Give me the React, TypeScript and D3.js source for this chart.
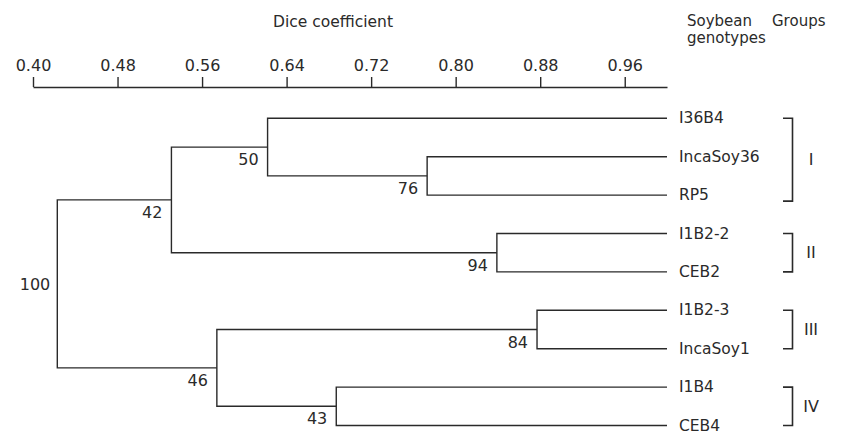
import React, { useEffect, useRef } from "react";
import * as d3 from "d3";

const leaves = ["I36B4", "IncaSoy36", "RP5", "I1B2-2", "CEB2", "I1B2-3", "IncaSoy1", "I1B4", "CEB4"];

// internal nodes: id, Dice similarity at join, bootstrap support, children
const nodeIds = ["n76", "n50", "n94", "n42", "n84", "n43", "n46", "root"];
const nodeSim = [0.773, 0.622, 0.839, 0.531, 0.877, 0.687, 0.574, 0.423];
const nodeBoot = [76, 50, 94, 42, 84, 43, 46, 100];
const nodeChildren = [
  ["IncaSoy36", "RP5"],
  ["I36B4", "n76"],
  ["I1B2-2", "CEB2"],
  ["n50", "n94"],
  ["I1B2-3", "IncaSoy1"],
  ["I1B4", "CEB4"],
  ["n84", "n43"],
  ["n42", "n46"],
];

const tickValues = [0.4, 0.48, 0.56, 0.64, 0.72, 0.8, 0.88, 0.96];

const groupNames = ["I", "II", "III", "IV"];
const groupFirst = ["I36B4", "I1B2-2", "I1B2-3", "I1B4"];
const groupLast = ["RP5", "CEB2", "IncaSoy1", "CEB4"];

const W = 856;
const H = 434;
const FONT = "'DejaVu Sans', sans-serif";
const INK = "#2a2a2a";

export default function App() {
  const ref = useRef<SVGSVGElement | null>(null);

  useEffect(() => {
    const svg = d3.select(ref.current);
    svg.selectAll("*").remove();

    const x = d3.scaleLinear().domain([0.4, 1.0]).range([33, 667]);
    const y = d3.scalePoint<string>().domain(leaves).range([118.3, 425.5]);

    // axis
    const axisG = svg.append("g").attr("transform", "translate(0,87)");
    axisG.call(
      d3
        .axisTop(x)
        .tickValues(tickValues)
        .tickFormat(d3.format(".2f"))
        .tickSize(10)
        .tickSizeOuter(0)
        .tickPadding(6)
    );
    axisG.selectAll("path, line").attr("stroke", INK).attr("stroke-width", 1.4);
    axisG.selectAll("text").attr("font-family", FONT).attr("font-size", 16).attr("fill", INK);
    axisG.attr("font-family", FONT);

    // titles
    const t = svg.append("g").attr("font-family", FONT).attr("font-size", 15).attr("fill", INK);
    t.append("text").attr("x", 333).attr("y", 27).attr("text-anchor", "middle").attr("font-size", 15.5).text("Dice coefficient");
    t.append("text").attr("x", 687).attr("y", 26).text("Soybean");
    t.append("text").attr("x", 687).attr("y", 43).text("genotypes");
    t.append("text").attr("x", 772).attr("y", 26).text("Groups");

    // compute positions
    const pos: Record<string, { x: number; y: number }> = {};
    leaves.forEach((l) => (pos[l] = { x: x(1.0), y: y(l)! }));
    nodeIds.forEach((id, i) => {
      const [a, b] = nodeChildren[i];
      pos[id] = { x: x(nodeSim[i]), y: (pos[a].y + pos[b].y) / 2 };
    });

    const lines = svg
      .append("g")
      .attr("fill", "none")
      .attr("stroke", INK)
      .attr("stroke-width", 1.4);

    nodeIds.forEach((id, i) => {
      const p = pos[id];
      const [a, b] = nodeChildren[i];
      const pa = pos[a];
      const pb = pos[b];
      const path = d3.path();
      path.moveTo(pa.x, pa.y);
      path.lineTo(p.x, pa.y);
      path.lineTo(p.x, pb.y);
      path.lineTo(pb.x, pb.y);
      lines.append("path").attr("d", path.toString());
    });

    // bootstrap labels
    const bl = svg.append("g").attr("font-family", FONT).attr("font-size", 16).attr("fill", INK);
    nodeIds.forEach((id, i) => {
      const p = pos[id];
      if (id === "root") {
        bl.append("text")
          .attr("x", p.x - 7)
          .attr("y", p.y)
          .attr("dy", "0.36em")
          .attr("text-anchor", "end")
          .text(nodeBoot[i]);
      } else {
        bl.append("text")
          .attr("x", p.x - 9)
          .attr("y", p.y + 18)
          .attr("text-anchor", "end")
          .text(nodeBoot[i]);
      }
    });

    // leaf labels
    const ll = svg.append("g").attr("font-family", FONT).attr("font-size", 15.5).attr("fill", INK);
    leaves.forEach((l) => {
      ll.append("text")
        .attr("x", x(1.0) + 12)
        .attr("y", y(l)!)
        .attr("dy", "0.33em")
        .text(l);
    });

    // group brackets
    const gb = svg.append("g");
    groupNames.forEach((g, i) => {
      const y0 = y(groupFirst[i])!;
      const y1 = y(groupLast[i])! + (i === 0 ? 6 : 0);
      const path = d3.path();
      path.moveTo(783, y0);
      path.lineTo(792.5, y0);
      path.lineTo(792.5, y1);
      path.lineTo(783, y1);
      gb.append("path")
        .attr("d", path.toString())
        .attr("fill", "none")
        .attr("stroke", INK)
        .attr("stroke-width", 1.6);
      gb.append("text")
        .attr("x", 811)
        .attr("y", (y0 + y1) / 2)
        .attr("dy", "0.36em")
        .attr("text-anchor", "middle")
        .attr("font-family", FONT)
        .attr("font-size", 16)
        .attr("fill", INK)
        .text(g);
    });
  }, []);

  return (
    <svg
      ref={ref}
      width={W}
      height={H}
      style={{ position: "absolute", left: 0, top: 0, background: "#fff" }}
    />
  );
}
